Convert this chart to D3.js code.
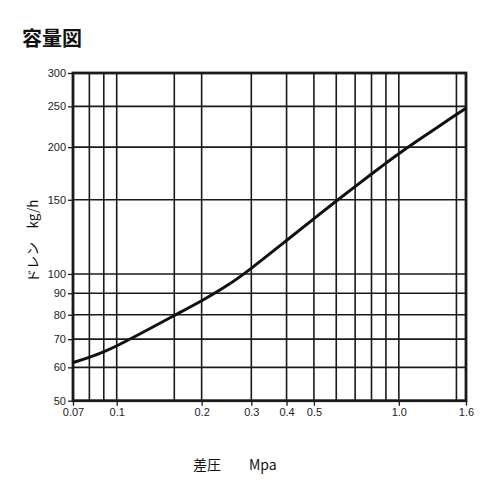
<!DOCTYPE html>
<html><head><meta charset="utf-8">
<script src="https://cdn.jsdelivr.net/npm/d3@7"></script>
<style>
html,body{margin:0;padding:0;background:#fff;}
svg{display:block;}
</style></head>
<body>
<svg id="chart" width="500" height="500"></svg>
<script>
// ---- data ----
const pressure = [0.07, 0.08, 0.09, 0.1, 0.13, 0.16, 0.2, 0.25, 0.3, 0.4, 0.5, 0.6, 0.7, 0.8, 0.9, 1.0, 1.25, 1.6, 1.73];
const drain    = [61.6, 63.3, 65.3, 67.4, 73.9, 79.7, 86.2, 94.2, 103.0, 120.1, 135.2, 149.0, 161.3, 172.7, 183.2, 193.2, 213.9, 239.1, 247.4];
const xGrid = [0.08, 0.09, 0.1, 0.16, 0.2, 0.3, 0.4, 0.5, 0.6, 0.7, 0.8, 0.9, 1.0, 1.6];
const yGrid = [60, 70, 80, 90, 100, 150, 200, 250];
const xTickValues = [0.07, 0.1, 0.2, 0.3, 0.4, 0.5, 1.0, 1.73];
const xTickLabels = ["0.07", "0.1", "0.2", "0.3", "0.4", "0.5", "1.0", "1.6"];
const yTickValues = [50, 60, 70, 80, 90, 100, 150, 200, 250, 300];
const yTickLabels = ["50", "60", "70", "80", "90", "100", "150", "200", "250", "300"];
const xDomain = [0.07, 1.73];
const yDomain = [50, 300];
const title = "容量図";
const yLabel = "ドレン　kg/h";
const xLabel = "差圧　　Mpa";

// ---- drawing ----
const svg = d3.select("#chart");
const L = 73, R = 466, T = 73, B = 400.7;
const x = d3.scaleLog().domain(xDomain).range([L, R]);
const y = d3.scaleLog().domain(yDomain).range([B, T]);
const ink = "#1a1a1a";

// grid
svg.append("g").selectAll("line").data(xGrid).join("line")
  .attr("x1", d => x(d)).attr("x2", d => x(d)).attr("y1", T).attr("y2", B)
  .attr("stroke", ink).attr("stroke-width", 1.6);
svg.append("g").selectAll("line").data(yGrid).join("line")
  .attr("y1", d => y(d)).attr("y2", d => y(d)).attr("x1", L).attr("x2", R)
  .attr("stroke", ink).attr("stroke-width", 1.6);

// axes
const xAxis = d3.axisBottom(x).tickValues(xTickValues)
  .tickFormat((d, i) => xTickLabels[i]).tickSize(5).tickSizeOuter(0).tickPadding(3);
const gx = svg.append("g").attr("transform", `translate(0,${B})`).call(xAxis);
gx.select(".domain").remove();
gx.selectAll("line").attr("stroke", ink).attr("stroke-width", 1.3);
gx.selectAll("text").attr("font-family", "Liberation Sans, Arial, sans-serif").attr("font-size", 11).attr("fill", "#222");

const yAxis = d3.axisLeft(y).tickValues(yTickValues)
  .tickFormat((d, i) => yTickLabels[i]).tickSize(5).tickSizeOuter(0).tickPadding(2);
const gy = svg.append("g").attr("transform", `translate(${L},0)`).call(yAxis);
gy.select(".domain").remove();
gy.selectAll("line").attr("stroke", ink).attr("stroke-width", 1.3);
gy.selectAll("text").attr("font-family", "Liberation Sans, Arial, sans-serif").attr("font-size", 11).attr("fill", "#222");

// frame
svg.append("rect").attr("x", L).attr("y", T).attr("width", R - L).attr("height", B - T)
  .attr("fill", "none").attr("stroke", ink).attr("stroke-width", 2.8);

// curve
const pts = pressure.map((p, i) => [p, drain[i]]);
const line = d3.line().x(d => x(d[0])).y(d => y(d[1])).curve(d3.curveBasis);
svg.append("path").datum(pts).attr("d", line)
  .attr("fill", "none").attr("stroke", "#111").attr("stroke-width", 3).attr("stroke-linecap", "butt");

// texts
svg.append("text").attr("x", 22).attr("y", 46).text(title)
  .attr("font-family", "Noto Sans CJK JP, sans-serif").attr("font-weight", "bold")
  .attr("font-size", 20).attr("fill", "#111");
svg.append("text").attr("transform", "translate(38,241) rotate(-90)")
  .attr("text-anchor", "middle").text(yLabel)
  .attr("font-family", "Noto Sans CJK JP, sans-serif").attr("font-size", 13.5).attr("fill", "#111");
svg.append("text").attr("x", 193).attr("y", 470).text(xLabel)
  .attr("font-family", "Noto Sans CJK JP, sans-serif").attr("font-size", 14).attr("fill", "#111")
  .attr("xml:space", "preserve");
</script>
</body></html>
